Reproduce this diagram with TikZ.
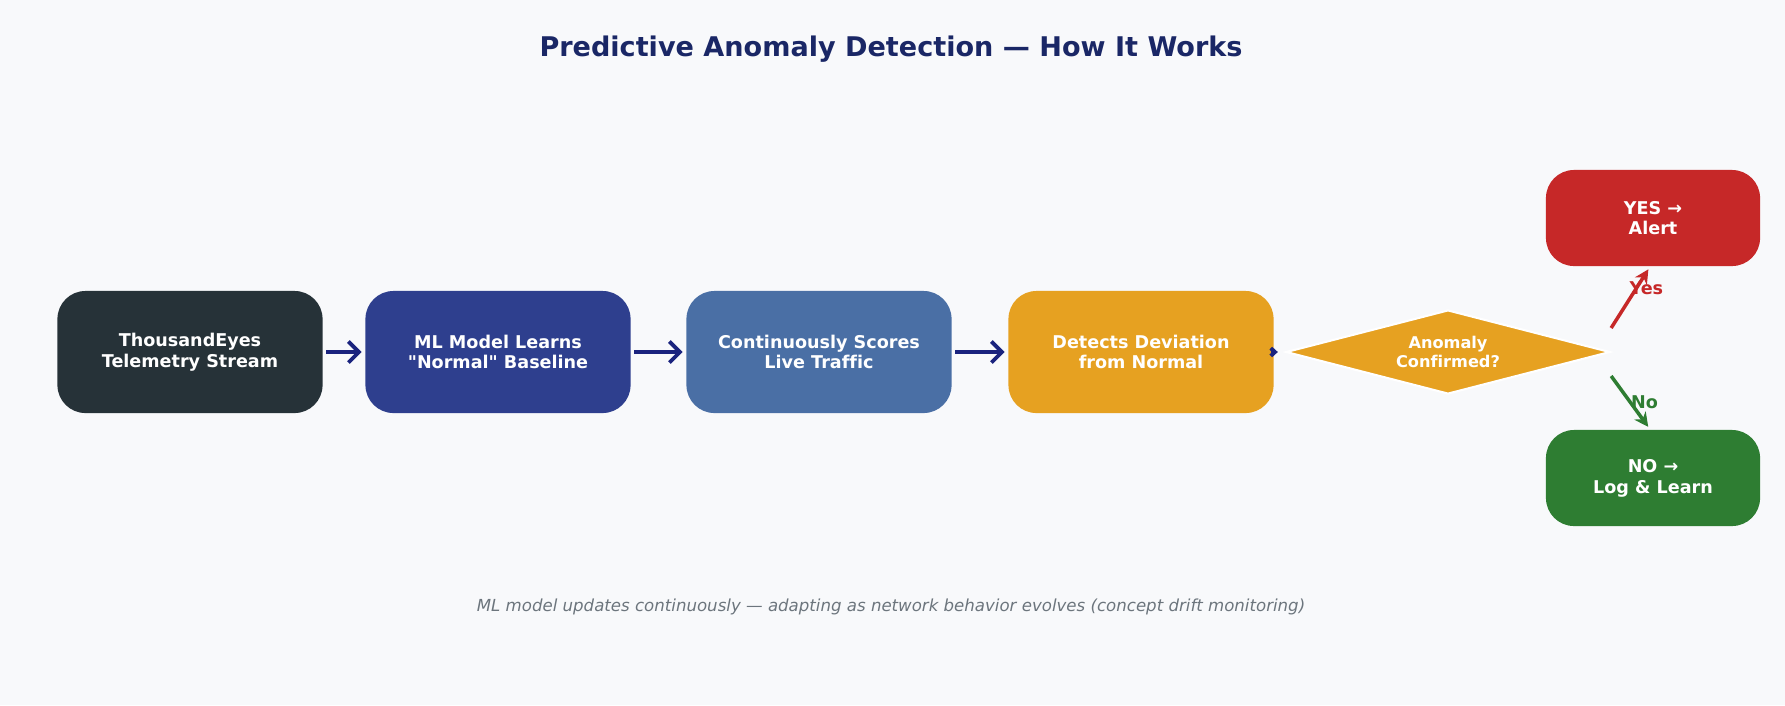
\documentclass[tikz,border=0pt]{standalone}
\usepackage{fontspec}
\setmainfont{DejaVu Sans}[Ligatures={TeXOff,NoCommon}]
\usetikzlibrary{shapes.geometric,arrows.meta}
\definecolor{pagebg}{HTML}{F8F9FB}
\definecolor{titleblue}{HTML}{1A2766}
\definecolor{flownavy}{HTML}{1A237E}
\definecolor{tedark}{HTML}{263238}
\definecolor{mlblue}{HTML}{2E3F8E}
\definecolor{scoreblue}{HTML}{4A6FA5}
\definecolor{devamber}{HTML}{E6A121}
\definecolor{alertred}{HTML}{C62828}
\definecolor{learngreen}{HTML}{2E7D32}
\definecolor{notegray}{HTML}{6C757D}
\begin{document}
\begin{tikzpicture}
[x=0.01cm,y=-0.01cm,
 every node/.style={text=white, align=center, font=\bfseries\fontsize{5}{5.9}\selectfont},
 stage/.style={rounded corners=0.28cm, minimum width=2.65cm, minimum height=1.22cm, inner sep=0},
 outcome/.style={rounded corners=0.28cm, minimum width=2.14cm, minimum height=0.96cm, inner sep=0},
 flow/.style={line width=1.1pt, draw=flownavy, -{Straight Barb[length=3pt,width=6pt]}, shorten <=0.03cm, shorten >=0.03cm},
 branch/.style={line width=1pt, -{Stealth[length=4pt,width=4pt]}, shorten >=0.03cm}]
\def \midy {352}
% background and page size
\fill[pagebg] (0,0) rectangle (1785,705);
\useasboundingbox (0,0) rectangle (1785,705);
\node[text=titleblue, font=\bfseries\fontsize{7.7}{9}\selectfont] (title) at (891,49) {Predictive Anomaly Detection — How It Works};
% pipeline stages
\foreach \name/\x/\col/\txt in {src/190/tedark/{ThousandEyes\\Telemetry Stream},
                                 base/498/mlblue/{ML Model Learns\\"Normal" Baseline},
                                 score/819/scoreblue/{Continuously Scores\\Live Traffic},
                                 dev/1141/devamber/{Detects Deviation\\from Normal}}
{
  \node[stage, fill=\col] (\name) at (\x,\midy) {\txt};
}
\node[diamond, aspect=3.78, minimum width=3.24cm, minimum height=0.84cm, inner sep=0,
      fill=devamber, draw=white, line width=0.6pt, font=\bfseries\fontsize{4.6}{5.6}\selectfont] (dia) at (1448,\midy) {Anomaly\\Confirmed?};
\node[outcome, fill=alertred] (alert) at (1653,218) {YES →\\Alert};
\node[outcome, fill=learngreen] (learn) at (1653,478) {NO →\\Log \& Learn};
\foreach \a/\b in {src/base,base/score,score/dev}
  \draw[flow] (\a) -- (\b);
\draw[flow, -{Straight Barb[length=1.2pt,width=2.2pt]}, shorten >=0.07cm] (dev) -- (dia);
% branches
\coordinate (ys) at ([yshift=0.24cm]dia.east);
\coordinate (ns) at ([yshift=-0.24cm]dia.east);
\draw[branch, draw=alertred] (ys) -- node[pos=0.65, xshift=0.1cm, text=alertred] {Yes} ([xshift=-0.03cm]alert.south);
\draw[branch, draw=learngreen] (ns) -- node[pos=0.5, xshift=0.14cm, text=learngreen] {No} ([xshift=-0.03cm]learn.north);
\node[text=notegray, font=\itshape\fontsize{4.72}{6}\selectfont] (note) at (891,607) {ML model updates continuously — adapting as network behavior evolves (concept drift monitoring)};
\end{tikzpicture}
\end{document}
